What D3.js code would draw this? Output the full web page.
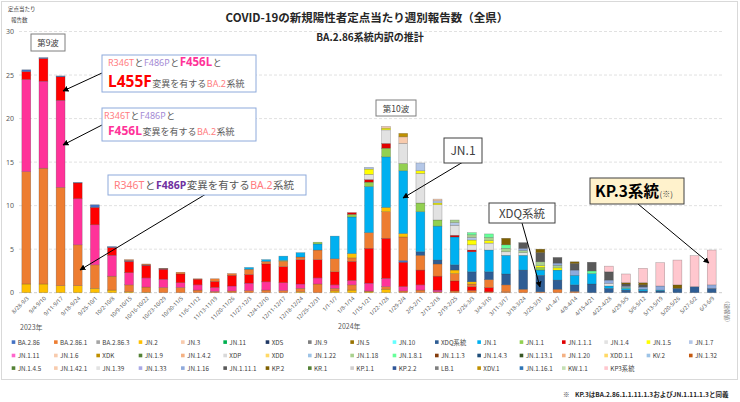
<!DOCTYPE html>
<html><head><meta charset="utf-8">
<script src="https://cdn.jsdelivr.net/npm/d3@7"></script>
<style>
body{margin:0;background:#fff}
svg{display:block;font-family:"Noto Sans CJK JP","Noto Sans",sans-serif}
</style>
</head><body>
<svg id="c" width="740" height="402"></svg>
<script>
// ---------- DATA ----------
const weeks = ["8/28-9/3","9/4-9/10","9/11-9/17","9/18-9/24","9/25-10/1","10/2-10/8","10/9-10/15","10/16-10/22","10/23-10/29","10/30-11/5",
"11/6-11/12","11/13-11/19","11/20-11/26","11/27-12/3","12/4-12/10","12/11-12/17","12/18-12/24","12/25-12/31","1/1-1/7","1/8-1/14",
"1/15-1/21","1/22-1/28","1/29-2/4","2/5-2/11","2/12-2/18","2/19-2/25","2/26-3/3","3/4-3/10","3/11-3/17","3/18-3/24",
"3/25-3/31","4/1-4/7","4/8-4/14","4/15-4/21","4/22-4/28","4/29-5/5","5/6-5/12","5/13-5/19","5/20-5/26","5/27-6/2","6/3-6/9"];
const yTicks = [0,5,10,15,20,25,30];

// XBB-derived lineages (not in visible legend)
const xbbOther = [1.0,1.0,0.8,0.8,0.5,0.3,0.1,0.05,0,0, 0,0,0,0,0,0,0.1,0,0.2,0.3, 0.1,0.4,0,0,0,0,0,0,0,0, 0,0,0,0,0,0,0,0,0,0, 0];
const r346tF486p = [12.9,13.3,11.3,4.7,2.7,1.6,0.8,0.6,0.6,0.6, 0.3,0.15,0.2,0.25,0.3,0.25,0.4,1.0,0.3,0.6, 0.1,0.3,0.2,0.3,0.1,0.2,0.25,0.1,0.1,0, 0,0,0,0,0,0,0,0,0,0, 0];
const f456l = [10.6,10.0,10.0,5.3,4.6,2.4,1.4,1.05,0.95,0.55, 0.6,0.45,0.57,0.85,0.95,0.9,0.5,0.7,0.4,0.5, 0.9,0.95,0.5,0.6,0.2,0,0,0,0,0, 0,0,0,0,0,0,0,0,0,0, 0];
const l455f = [0.9,2.6,2.7,1.8,2.0,0.9,1.3,1.45,1.15,1.0, 0.65,0.7,1.23,1.0,2.05,1.85,2.8,2.1,1.5,2.2, 4.0,4.6,2.8,1.7,1.6,1.15,0.45,0.5,0,0, 0,0,0,0,0,0,0,0,0,0, 0];
// BA.2.86 lineages
const ba286 = [0.2,0.1,0.1,0.05,0.3,0.1,0.1,0.05,0.05,0, 0,0,0,0,0,0,0,0,0,0, 0,0,0.2,0,0,0,0,0,0,0, 0,0,0,0,0,0,0,0,0,0, 0];
const ba2861 = [0,0,0,0,0,0,0.1,0.1,0.05,0.2, 0.05,0.3,0.2,0.6,0.3,0.6,0.3,1.1,1.5,0.4, 1.8,3.05,2.7,1.7,1.4,0.85,0.3,0.9,0.8,0.4, 0.1,0.4,0.15,0,0,0,0,0,0,0, 0];
const jn2 = [0,0,0,0,0,0,0,0,0,0, 0,0,0,0,0,0.1,0,0,0,0.5, 0,0.5,0.4,0,0,0.4,0.25,0,0,0, 0,0,0,0,0,0,0,0,0,0, 0];
const xdq = [0,0,0,0,0,0,0,0,0,0, 0,0,0,0,0,0,0,0,0,0, 0,0,0,0.4,0.45,0.6,1.15,0.9,1.25,2.2, 1.9,1.05,0.75,1.0,0.5,0.3,0.2,0.2,0.5,0.7, 0.5];
const jn1 = [0,0,0,0,0,0,0,0,0,0, 0,0,0,0.2,0.2,0.5,0.5,0.7,2.6,4.2, 5.3,5.8,7.2,4.6,3.9,3.2,2.3,2.5,2.15,1.7, 0.6,1.15,1.1,1.2,0.27,0.2,0.2,0.1,0,0, 0];
const jn1_1 = [0,0,0,0,0,0,0,0,0,0, 0,0,0,0,0,0,0,0.2,0,0.3, 0.5,1.0,0.85,1.0,0.7,0,0,0,0,0, 0.3,0,0,0,0,0,0,0,0,0, 0];
const jn1_1_1 = [0,0,0,0,0,0,0,0,0,0, 0,0,0,0,0,0,0,0,0,0.2, 0.3,0.55,0,0,0,0.2,0.2,0,0,0, 0,0,0,0,0,0,0,0,0,0, 0];
const jn1_4 = [0,0,0,0,0,0,0,0,0,0, 0,0,0,0,0,0,0,0,0,0, 0.6,1.55,2.3,3.4,1.75,1.15,0.6,0.8,0.4,0.3, 0,0,0,0,0.3,0,0,0,0,0, 0];
const jn1_5 = [0,0,0,0,0,0,0,0,0,0, 0,0,0,0,0,0,0,0,0,0, 0.6,0.2,0,0.3,0.2,0,0.55,0.3,0,0, 0.2,0.25,0,0,0,0,0,0,0,0, 0];
const jn1_7 = [0,0,0,0,0,0,0,0,0,0, 0,0,0,0,0,0,0,0,0,0, 0.2,0,0,0.9,0.25,0.3,0.3,0,0,0, 0,0,0,0,0,0,0,0,0,0, 0];
const jn1_6 = [0,0,0,0,0,0,0,0,0,0, 0,0,0,0,0,0,0,0,0,0, 0,0.2,0.75,0,0.2,0,0,0,0,0, 0,0,0,0,0,0,0,0,0,0, 0];
const xdk = [0,0,0,0,0,0,0,0,0,0, 0,0,0,0,0,0,0,0,0,0, 0,0,0.4,0,0,0,0,0,0,0, 0,0,0,0,0,0,0,0,0,0, 0];
const jn1_18 = [0,0,0,0,0,0,0,0,0,0, 0,0,0,0,0,0,0,0,0,0, 0,0,0,0,0,0.3,0.3,0.35,0.4,0.25, 0.45,0.3,0,0,0,0,0,0,0,0, 0];
const jn1_8_1 = [0,0,0,0,0,0,0,0,0,0, 0,0,0,0,0,0,0,0,0,0, 0,0,0,0,0,0,0.25,0.4,0.4,0, 0,0,0,0.3,0,0.1,0,0,0,0, 0];
const jn1_16 = [0,0,0,0,0,0,0,0,0,0, 0,0,0,0,0,0,0,0,0,0, 0,0,0,0,0,0,0,0,0,0.25, 0,0.25,0.6,0,0.38,0.15,0.25,0.47,0,0, 0.4];
const jn1_11_1 = [0,0,0,0,0,0,0,0,0,0, 0,0,0,0,0,0,0,0,0,0, 0,0,0,0,0,0,0,0,0,0.65, 1.05,0.65,0.75,1.0,0.95,0.25,0.25,0,0,0, 0];
const kp2 = [0,0,0,0,0,0,0,0,0,0, 0,0,0,0,0,0,0,0,0,0, 0,0,0,0,0,0,0,0,0.75,0, 0.4,0,0.2,0,0,0.15,0.25,0,0.4,0, 0];
const kp3 = [0,0,0,0,0,0,0,0,0,0, 0,0,0,0,0,0,0,0,0,0, 0,0,0,0,0,0,0,0,0,0, 0,0,0,0,0.65,1.0,1.65,2.68,2.85,3.55, 4.0];

// stack order (bottom -> top)
const stackKeys = ["XBB他","R346T+F486P","F456L","L455F","BA.2.86","BA.2.86.1","JN.2","XDQ系統","JN.1","JN.1.1","JN.1.1.1","JN.1.4","JN.1.5","JN.1.7","JN.1.6","XDK","JN.1.18","JN.1.8.1","JN.1.16","JN.1.11.1","KP.2","KP3系統"];
const stackValues = [xbbOther,r346tF486p,f456l,l455f,ba286,ba2861,jn2,xdq,jn1,jn1_1,jn1_1_1,jn1_4,jn1_5,jn1_7,jn1_6,xdk,jn1_18,jn1_8_1,jn1_16,jn1_11_1,kp2,kp3];

// legend
const legendNames = ["BA.2.86","BA.2.86.1","BA.2.86.3","JN.2","JN.3","JN.11","XDS","JN.9","JN.5","JN.10","XDQ系統","JN.1","JN.1.1","JN.1.1.1","JN.1.4","JN.1.5","JN.1.7",
"JN.1.11","JN.1.6","XDK","JN.1.9","JN.1.4.2","XDP","XDD","JN.1.22","JN.1.18","JN.1.8.1","JN.1.1.3","JN.1.4.3","JN.1.13.1","JN.1.20","XDD.1.1","KV.2","JN.1.32",
"JN.1.4.5","JN.1.42.1","JN.1.39","JN.1.33","JN.1.16","JN.1.11.1","KP.2","KR.1","KP.1.1","KP.2.2","LB.1","XDV.1","JN.1.16.1","KW.1.1","KP3系統"];
const legendColors = ["#4472c4","#ed7d31","#a5a5a5","#ffc000","#f8cbad","#00b050","#203864","#7f7f7f","#997300","#66ffff","#2e5d94","#00b0f0","#92d050","#e00000","#e2e2e2","#ffff00","#b4c7e7",
"#ff66cc","#f8cbad","#bf9000","#548235","#f4b183","#d9d9d9","#ffd966","#9dc3e6","#a9d18e","#66ff99","#843c0c","#1f4e79","#375623","#f4b183","#ffd966","#9dc3e6","#c55a11",
"#548235","#f8cbad","#e2e2e2","#a9a9e6","#8faadc","#595959","#7f6000","#538135","#d0cece","#2f5597","#7f7f7f","#bf9000","#2e75b6","#c5e0b4","#ffc7ce"];
const extraColors = {"XBB他":"#ffc000","R346T+F486P":"#ed7d31","F456L":"#ff3399","L455F":"#ff0000"};

// ---------- CHART ----------
const svg = d3.select("#c");
const colorOf = k => extraColors[k] || legendColors[legendNames.indexOf(k)];

svg.append("rect").attr("x",1.5).attr("y",1.5).attr("width",736).attr("height",378)
  .attr("fill","#fff").attr("stroke","#d9d9d9");

const x = d3.scaleBand().domain(weeks).range([17.4,720.6]).paddingInner(0.48).paddingOuter(0.26);
const y = d3.scaleLinear().domain([0,30]).range([292.7,31.5]);

// grid
svg.append("g").selectAll("line").data(yTicks).join("line")
  .attr("x1",19).attr("x2",722).attr("y1",d=>y(d)).attr("y2",d=>y(d))
  .attr("stroke",d=>d===0?"#bfbfbf":"#d9d9d9").attr("stroke-width",0.8)
  .attr("stroke-dasharray","3,2");

const yAxis = d3.axisLeft(y).tickValues(yTicks).tickSize(0).tickPadding(0);
const ga = svg.append("g").attr("transform","translate(14,0)").call(yAxis);
ga.select(".domain").remove();
ga.selectAll("text").attr("font-size",7).attr("fill","#595959").attr("font-family","'Noto Sans',sans-serif");

// stacked bars
const table = weeks.map((w,i)=>{const r={week:w}; stackKeys.forEach((k,j)=>r[k]=stackValues[j][i]); return r;});
const series = d3.stack().keys(stackKeys)(table);
svg.append("g").selectAll("g").data(series).join("g")
  .attr("fill",s=>colorOf(s.key))
  .selectAll("rect").data(s=>s.filter(d=>d[1]-d[0]>0)).join("rect")
  .attr("x",d=>x(d.data.week)).attr("width",x.bandwidth())
  .attr("y",d=>y(d[1])).attr("height",d=>y(d[0])-y(d[1]))
  .attr("stroke","#404040").attr("stroke-opacity",0.45).attr("stroke-width",0.5);

// x labels
const xAxis = d3.axisBottom(x).tickSize(0).tickPadding(0);
const gx = svg.append("g").attr("transform","translate(0,292.7)").call(xAxis);
gx.select(".domain").remove();
gx.selectAll("text").attr("font-size",5.5).attr("fill","#595959")
  .attr("text-anchor","end").attr("dy",0)
  .attr("transform","translate(3,6) rotate(-45)")
  .attr("font-family","'Noto Sans',sans-serif");

const txt = (s,xx,yy,o={})=>svg.append("text").attr("x",xx).attr("y",yy).text(s)
  .attr("font-size",o.size||7).attr("fill",o.fill||"#404040").attr("font-weight",o.weight||"normal")
  .attr("text-anchor",o.anchor||"start");

// place text runs one after another as separate text elements
const runs = (x0,yy,parts)=>{
  let cx = x0;
  parts.forEach(p=>{
    const el = svg.append("text").attr("x",cx).attr("y",yy).text(p.t)
      .attr("font-size",p.s||9).attr("fill",p.c).attr("font-weight",p.b?"bold":"normal");
    if (p.latin) el.attr("font-family","'Noto Sans',sans-serif");
    cx += el.node().getComputedTextLength() + 0.5;
  });
};

txt("2023年",20,330,{size:7,fill:"#595959"});
txt("2024年",338,329,{size:7,fill:"#595959"});
txt("定点当たり",8,11,{size:5.5,fill:"#404040"});
txt("報告数",11,22,{size:5.5,fill:"#404040"});

// titles
txt("COVID-19の新規陽性者定点当たり週別報告数（全県）",367,22,{size:11.5,weight:"bold",anchor:"middle",fill:"#262626"});
txt("BA.2.86系統内訳の推計",370,41,{size:10,weight:"bold",anchor:"middle",fill:"#262626"});

// vertical note
svg.append("text").attr("transform","translate(725,298) rotate(90)").text("（速報値）")
  .attr("font-size",5.5).attr("fill","#7f7f7f");

// legend
const lg = svg.append("g");
legendNames.forEach((n,i)=>{
  const row = i<17?0:(i<34?1:2), col = i<17?i:(i<34?i-17:i-34);
  const lx = 11.7 + col*42.33, ly = [342.3,355.7,368.3][row];
  lg.append("rect").attr("x",lx).attr("y",ly-2).attr("width",3.6).attr("height",3.6).attr("fill",legendColors[i]);
  lg.append("text").attr("x",lx+6).attr("y",ly+2.2).text(n).attr("font-size",6.3).attr("fill","#404040");
});

// footnote
txt("※",563,397,{size:6.5,fill:"#404040"});
txt("KP.3はBA.2.86.1.1.11.1.3およびJN.1.11.1.3と同義",575,397,{size:6.5,weight:"bold",fill:"#262626"});

// arrows
svg.append("defs").append("marker").attr("id","ah").attr("viewBox","0 0 10 10")
  .attr("refX",9).attr("refY",5).attr("markerWidth",6).attr("markerHeight",6)
  .attr("markerUnits","userSpaceOnUse").attr("orient","auto")
  .append("path").attr("d","M0,0L10,5L0,10z").attr("fill","#000");
const arrows = [[102,73,63,91],[102,125,63,145],[206,194,80,270],[463,162,403,198],[522,223,540,287],[638,204,709,263]];
svg.append("g").selectAll("line").data(arrows).join("line")
  .attr("x1",d=>d[0]).attr("y1",d=>d[1]).attr("x2",d=>d[2]).attr("y2",d=>d[3])
  .attr("stroke","#000").attr("stroke-width",1).attr("marker-end","url(#ah)");

const box = (bx,by,bw,bh,stroke,fill)=>svg.append("rect").attr("x",bx).attr("y",by).attr("width",bw).attr("height",bh)
  .attr("fill",fill||"#fff").attr("stroke",stroke).attr("stroke-width",1);

// wave boxes
box(31,34,34,17,"#7f7f7f"); txt("第9波",48,46,{size:8.5,anchor:"middle",fill:"#404040"});
box(376,100,40,16,"#7f7f7f"); txt("第10波",396,112,{size:8.5,anchor:"middle",fill:"#404040"});

// variant boxes
const salmon="#ff7c80", lav="#a48ad4", gray="#595959";
box(102,55,154,37,"#8eaadb");
runs(108,66,[{t:"R346T",c:salmon,latin:1},{t:"と",c:gray},{t:"F486P",c:lav,latin:1},{t:"と",c:gray},{t:"F456L",c:"#ff3399",b:1,s:11.5,latin:1},{t:"と",c:gray}]);
runs(108,86.5,[{t:"L455F",c:"#ff0000",b:1,s:15.5,latin:1},{t:"変異を有する",c:gray},{t:"BA.2",c:salmon,latin:1},{t:"系統",c:gray}]);

box(102,108,154,33,"#8eaadb");
runs(104,118.5,[{t:"R346T",c:salmon,latin:1},{t:"と",c:gray},{t:"F486P",c:lav,latin:1},{t:"と",c:gray}]);
runs(108,135,[{t:"F456L",c:"#ff3399",b:1,s:12,latin:1},{t:"変異を有する",c:gray},{t:"BA.2",c:salmon,latin:1},{t:"系統",c:gray}]);

box(108,175,198,20,"#8eaadb");
runs(114,189,[{t:"R346T",c:salmon,s:10.5,latin:1},{t:"と",c:gray,s:10.5},{t:"F486P",c:"#7030a0",b:1,s:10.5,latin:1},{t:"変異を有する",c:gray,s:10.5},{t:"BA.2",c:salmon,s:10.5,latin:1},{t:"系統",c:gray,s:10.5}]);

box(444,138,38,25,"#404040"); txt("JN.1",463,155,{size:12,anchor:"middle",fill:"#404040"});
box(489,203,66,20,"#404040"); txt("XDQ系統",522,218,{size:11.5,anchor:"middle",fill:"#404040"});
box(590,178,94,26,"#404040","#fff2cc");
runs(595,197,[{t:"KP.3系統",c:"#000",b:1,s:15.5},{t:"(※)",c:"#404040",s:8}]);
</script>
</body></html>
